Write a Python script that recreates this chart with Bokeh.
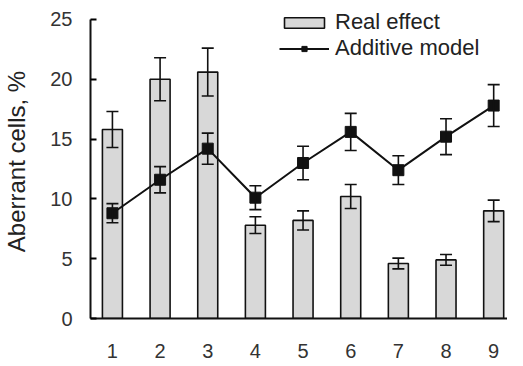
from bokeh.plotting import figure
from bokeh.models import (ColumnDataSource, Whisker, TeeHead, Legend, LegendItem,
                          FixedTicker, Range1d)
from bokeh.embed import file_html
from bokeh.resources import INLINE

groups = [1, 2, 3, 4, 5, 6, 7, 8, 9]
real_effect = [15.8, 20.0, 20.6, 7.8, 8.2, 10.2, 4.6, 4.9, 9.0]
real_err = [1.5, 1.8, 2.0, 0.7, 0.8, 1.0, 0.45, 0.45, 0.9]
additive = [8.8, 11.6, 14.2, 10.1, 13.0, 15.6, 12.4, 15.2, 17.8]
additive_err = [0.8, 1.1, 1.3, 1.0, 1.4, 1.55, 1.2, 1.5, 1.75]
y_ticks = [0, 5, 10, 15, 20, 25]

FONT = "Liberation Sans"

src_real = ColumnDataSource(dict(
    x=groups, top=real_effect,
    upper=[v + e for v, e in zip(real_effect, real_err)],
    lower=[v - e for v, e in zip(real_effect, real_err)],
))
src_add = ColumnDataSource(dict(
    x=groups, y=additive,
    upper=[v + e for v, e in zip(additive, additive_err)],
    lower=[v - e for v, e in zip(additive, additive_err)],
))

p = figure(width=507, height=360, output_backend="svg", toolbar_location=None,
           x_range=Range1d(0.54, 9.29), y_range=Range1d(0, 26.25),
           min_border_left=87, min_border_top=4, min_border_bottom=41,
           min_border_right=0)
p.outline_line_color = None
p.xgrid.visible = False
p.ygrid.visible = False
p.background_fill_color = "white"
p.border_fill_color = "white"

bars = p.vbar(x="x", top="top", width=0.42, source=src_real,
              fill_color="#d8d8d8", line_color="#111111", line_width=1.6)
p.add_layout(Whisker(base="x", upper="upper", lower="lower", source=src_real,
                     level="overlay", line_color="#111111", line_width=1.6,
                     upper_head=TeeHead(size=12, line_width=1.6, line_color="#111111"),
                     lower_head=TeeHead(size=12, line_width=1.6, line_color="#111111")))

line = p.line(x="x", y="y", source=src_add, line_color="#111111", line_width=2)
p.add_layout(Whisker(base="x", upper="upper", lower="lower", source=src_add,
                     level="overlay", line_color="#111111", line_width=1.6,
                     upper_head=TeeHead(size=12, line_width=1.6, line_color="#111111"),
                     lower_head=TeeHead(size=12, line_width=1.6, line_color="#111111")))
sq = p.scatter(x="x", y="y", source=src_add, marker="square", size=11,
               fill_color="#111111", line_color="#111111")

legend = Legend(items=[LegendItem(label="Real effect", renderers=[bars]),
                       LegendItem(label="Additive model", renderers=[line, sq])],
                location=(189, 257), glyph_width=50, glyph_height=13,
                spacing=0, padding=0, margin=0, label_standoff=6,
                label_height=22,
                label_text_font=FONT, label_text_font_size="22px",
                label_text_color="#222222", background_fill_alpha=0,
                border_line_color=None)
p.add_layout(legend, "center")

# Y axis
p.yaxis.ticker = FixedTicker(ticks=y_ticks)
p.yaxis.bounds = (0, 25)
p.yaxis.axis_label = "Aberrant cells, %"
p.yaxis.axis_label_text_font = FONT
p.yaxis.axis_label_text_font_size = "24px"
p.yaxis.axis_label_text_font_style = "normal"
p.yaxis.axis_label_text_color = "#222222"
p.yaxis.axis_label_standoff = 17
p.yaxis.major_label_text_font = FONT
p.yaxis.major_label_text_font_size = "20px"
p.yaxis.major_label_text_color = "#333333"
p.yaxis.major_label_standoff = 18
p.yaxis.major_tick_in = 6
p.yaxis.major_tick_out = 0
p.yaxis.major_tick_line_width = 2
p.yaxis.minor_tick_line_color = None
p.yaxis.axis_line_width = 2
p.yaxis.axis_line_color = "#111111"

# X axis
p.xaxis.ticker = FixedTicker(ticks=groups)
p.xaxis.major_label_text_font = FONT
p.xaxis.major_label_text_font_size = "20px"
p.xaxis.major_label_text_color = "#333333"
p.xaxis.major_label_standoff = 19
p.xaxis.major_tick_line_color = None
p.xaxis.minor_tick_line_color = None
p.xaxis.axis_line_width = 2
p.xaxis.axis_line_color = "#111111"

open("out.html", "w").write(file_html(p, INLINE))
